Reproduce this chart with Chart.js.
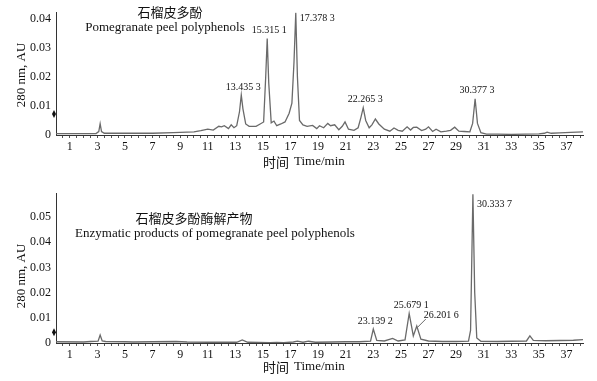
<!DOCTYPE html>
<html>
<head>
<meta charset="utf-8">
<script src="https://cdn.jsdelivr.net/npm/chart.js@4"></script>
<style>
  html, body { margin:0; padding:0; background:#fff; }
  #wrap { position:relative; width:597px; height:381px; }
  canvas { position:absolute; left:0; }
</style>
</head>
<body>
<div id="wrap">
  <canvas id="topChart" width="597" height="175" style="top:0"></canvas>
  <canvas id="bottomChart" width="597" height="206" style="top:175px"></canvas>
</div>
<script>
// retention time (min) and absorbance at 280 nm
const topTime = [0, 2.9, 3.1, 3.2, 3.3, 3.5, 5, 7, 8.5, 9.5, 10, 10.5, 11, 11.4, 11.8, 12.0, 12.2, 12.5, 12.7, 12.9,
  13.1, 13.3, 13.43, 13.55, 13.75, 14.0, 14.5, 14.8, 15.05, 15.2, 15.31, 15.42, 15.6, 15.8, 16.0, 16.3, 16.6, 16.9,
  17.1, 17.25, 17.38, 17.5, 17.65, 17.9, 18.2, 18.6, 18.9, 19.1, 19.4, 19.7, 19.9, 20.2, 20.5, 20.75, 20.95, 21.2,
  21.6, 21.9, 22.1, 22.27, 22.45, 22.7, 22.9, 23.15, 23.4, 23.8, 24.2, 24.5, 24.8, 25.1, 25.45, 25.7, 25.9, 26.15,
  26.5, 26.8, 27.0, 27.3, 27.55, 27.9, 28.3, 28.6, 28.9, 29.2, 29.6, 30.0, 30.2, 30.38, 30.55, 30.8, 31.2, 32, 33,
  34, 35, 35.4, 35.6, 35.9, 36.5, 37.3, 38.2];
const topSignal = [0.0005, 0.0005, 0.0012, 0.0039, 0.0012, 0.0006, 0.0006, 0.0006, 0.0008, 0.001, 0.0011, 0.0015,
  0.002, 0.0017, 0.003, 0.0028, 0.0032, 0.0022, 0.0035, 0.0025, 0.0032, 0.008, 0.0138, 0.009, 0.0038, 0.003, 0.003,
  0.0038, 0.0045, 0.02, 0.0332, 0.018, 0.0042, 0.0048, 0.0032, 0.0038, 0.0045, 0.0075, 0.011, 0.025, 0.0421, 0.02,
  0.005, 0.0035, 0.003, 0.0033, 0.0022, 0.0032, 0.0025, 0.004, 0.0032, 0.0035, 0.0018, 0.003, 0.0045, 0.002, 0.0016,
  0.0025, 0.006, 0.0094, 0.005, 0.0025, 0.0035, 0.0055, 0.0038, 0.002, 0.0013, 0.0024, 0.0016, 0.0013, 0.0028,
  0.0017, 0.0026, 0.0027, 0.0015, 0.002, 0.0028, 0.0012, 0.002, 0.0011, 0.0013, 0.0016, 0.0027, 0.0013, 0.0012,
  0.0011, 0.004, 0.0125, 0.004, 0.0008, 0.0003, 0.0003, 0.0002, 0.0003, 0.0004, 0.0006, 0.001, 0.0006, 0.0007,
  0.0009, 0.0011];

const bottomTime = [0, 2, 2.5, 3.05, 3.2, 3.35, 3.6, 5, 5.6, 7, 8.7, 9.5, 11, 13.1, 13.5, 13.9, 15.5, 16, 16.5, 17.2,
  17.5, 17.9, 18.3, 18.8, 20, 21, 22, 22.8, 23.0, 23.25, 23.8, 24.4, 24.8, 25.3, 25.6, 25.9, 26.15, 26.45, 27, 28,
  29, 29.9, 30.05, 30.22, 30.35, 30.5, 30.8, 32, 33, 34.1, 34.35, 34.6, 35.5, 36.5, 37.5, 38.2];
const bottomSignal = [0.0005, 0.0004, 0.0006, 0.0007, 0.0032, 0.0008, 0.0006, 0.0005, 0.0004, 0.0005, 0.0006, 0.0004,
  0.0003, 0.0003, 0.0012, 0.0003, 0.0001, 0.0002, 0.0001, 0.0004, 0.0007, 0.0003, 0.0007, 0.0003, 0.0004, 0.0005,
  0.0005, 0.0007, 0.0055, 0.001, 0.0008, 0.0018, 0.0008, 0.0012, 0.0117, 0.0028, 0.0067, 0.0015, 0.0008, 0.0006,
  0.0006, 0.0007, 0.005, 0.059, 0.02, 0.002, 0.0007, 0.0006, 0.0007, 0.0008, 0.0028, 0.001, 0.0009, 0.001, 0.0011,
  0.0013];

const xTickLabels = [1, 3, 5, 7, 9, 11, 13, 15, 17, 19, 21, 23, 25, 27, 29, 31, 33, 35, 37];
const topYTicks = [0, 0.01, 0.02, 0.03, 0.04];
const bottomYTicks = [0, 0.01, 0.02, 0.03, 0.04, 0.05];

// peak labels: retention time, height, text
const topPeakTimes = [13.43, 15.31, 17.38, 22.27, 30.38];
const topPeakHeights = [0.0138, 0.0332, 0.0421, 0.0094, 0.0125];
const topPeakTexts = ['13.435 3', '15.315 1', '17.378 3', '22.265 3', '30.377 3'];
const bottomPeakTimes = [23.0, 25.6, 26.15, 30.22];
const bottomPeakHeights = [0.0055, 0.0117, 0.0067, 0.059];
const bottomPeakTexts = ['23.139 2', '25.679 1', '26.201 6', '30.333 7'];

const SERIF = '"Liberation Serif", "Times New Roman", serif';
const CJK = '"Noto Sans CJK SC", sans-serif';

function points(ts, vs) {
  return ts.map((t, i) => ({ x: t, y: vs[i] }));
}

function annotations(id, opts) {
  return {
    id: id,
    afterDraw(chart) {
      const c = chart.ctx, xs = chart.scales.x, ys = chart.scales.y, a = chart.chartArea;
      c.save();
      c.fillStyle = '#111';
      // titles
      c.textAlign = 'center';
      c.textBaseline = 'middle';
      c.font = '13px ' + CJK;
      c.fillText(opts.cnTitle[0], opts.cnTitle[1], opts.cnTitle[2]);
      c.font = '13px ' + SERIF;
      c.fillText(opts.enTitle[0], opts.enTitle[1], opts.enTitle[2]);
      // x axis title
      c.textAlign = 'left';
      c.font = '13px ' + CJK;
      c.fillText('时间', 263, opts.xTitleY);
      c.font = '13px ' + SERIF;
      c.fillText('Time/min', 294, opts.xTitleY);
      // y axis title
      c.save();
      c.translate(22, opts.yTitleY);
      c.rotate(-Math.PI / 2);
      c.textAlign = 'center';
      c.fillText('280 nm, AU', 0, 0);
      c.restore();
      // diamond marker on y axis
      const dy = ys.getPixelForValue(opts.markerValue);
      c.beginPath();
      c.moveTo(a.left - 2, dy - 4);
      c.lineTo(a.left, dy);
      c.lineTo(a.left - 2, dy + 4);
      c.lineTo(a.left - 4, dy);
      c.closePath();
      c.fill();
      // peak labels
      c.font = '10px ' + SERIF;
      opts.peaks.times.forEach((t, i) => {
        const px = xs.getPixelForValue(t), py = ys.getPixelForValue(opts.peaks.heights[i]);
        const mode = opts.peaks.modes[i];
        if (mode === 'right') {
          c.textAlign = 'left'; c.textBaseline = 'middle';
          c.fillText(opts.peaks.texts[i], px + 4, py + opts.rightDrop);
        } else if (mode === 'leader') {
          c.strokeStyle = '#444'; c.lineWidth = 0.8;
          c.beginPath();
          c.moveTo(px + 1, py + 1);
          c.lineTo(px + 9, py - 7);
          c.stroke();
          c.textAlign = 'left'; c.textBaseline = 'middle';
          c.fillText(opts.peaks.texts[i], px + 7, py - 11);
        } else {
          c.textAlign = 'center'; c.textBaseline = 'bottom';
          c.fillText(opts.peaks.texts[i], px + 2, py - 3);
        }
      });
      c.restore();
    }
  };
}

function makeChart(canvasId, ts, vs, yMax, yTicks, pad, xHeight, plugin) {
  return new Chart(document.getElementById(canvasId), {
    type: 'line',
    data: {
      datasets: [{
        data: points(ts, vs),
        borderColor: '#6a6a6a',
        borderWidth: 1.3,
        pointRadius: 0,
        tension: 0,
        fill: false
      }]
    },
    options: {
      responsive: false,
      animation: false,
      layout: { padding: pad },
      plugins: { legend: { display: false }, tooltip: { enabled: false } },
      scales: {
        x: {
          type: 'linear', min: 0, max: 38.2,
          afterBuildTicks: s => {
            const t = [];
            for (let v = 0.5; v <= 38; v += 0.5) t.push({ value: v });
            s.ticks = t;
          },
          afterFit: s => { s.height = xHeight; },
          ticks: {
            autoSkip: false, maxRotation: 0, padding: 2, color: '#111',
            font: { family: SERIF, size: 12 },
            callback: v => xTickLabels.includes(v) ? String(v) : ''
          },
          grid: { drawOnChartArea: false, tickLength: 3, color: '#555' },
          border: { color: '#333', width: 1 }
        },
        y: {
          min: 0, max: yMax,
          afterBuildTicks: s => { s.ticks = yTicks.map(v => ({ value: v })); },
          afterFit: s => { s.width = 56; },
          ticks: {
            padding: 5, color: '#111',
            font: { family: SERIF, size: 12 },
            callback: v => v === 0 ? '0' : v.toFixed(2)
          },
          grid: { drawOnChartArea: false, drawTicks: false },
          border: { color: '#333', width: 1 }
        }
      }
    },
    plugins: [plugin]
  });
}

makeChart('topChart', topTime, topSignal, 0.0423, topYTicks,
  { left: 0, top: 5, right: 14, bottom: 0 }, 40,
  annotations('topNotes', {
    cnTitle: ['石榴皮多酚', 170, 12],
    enTitle: ['Pomegranate peel polyphenols', 165, 28],
    xTitleY: 162, yTitleY: 75, markerValue: 0.0072, rightDrop: 6,
    peaks: { times: topPeakTimes, heights: topPeakHeights, texts: topPeakTexts,
             modes: ['above', 'above', 'right', 'above', 'above'] }
  }));

makeChart('bottomChart', bottomTime, bottomSignal, 0.0595, bottomYTicks,
  { left: 0, top: 18, right: 14, bottom: 0 }, 38,
  annotations('bottomNotes', {
    cnTitle: ['石榴皮多酚酶解产物', 194, 43],
    enTitle: ['Enzymatic products of pomegranate peel polyphenols', 215, 59],
    xTitleY: 192, yTitleY: 101, markerValue: 0.0043, rightDrop: 10,
    peaks: { times: bottomPeakTimes, heights: bottomPeakHeights, texts: bottomPeakTexts,
             modes: ['above', 'above', 'leader', 'right'] }
  }));
</script>
</body>
</html>
